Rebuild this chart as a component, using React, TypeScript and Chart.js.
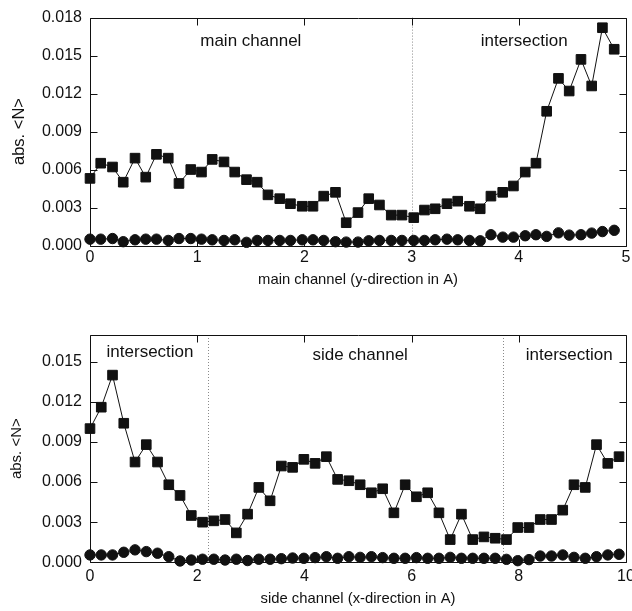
import React, { useEffect, useRef } from "react";
import { Chart, registerables } from "chart.js";

Chart.register(...registerables);

// ---------- data: main channel (top panel) ----------
const MAIN_X = [
  0, 0.1, 0.21, 0.31, 0.42, 0.52, 0.62, 0.73, 0.83, 0.94, 1.04, 1.14, 1.25, 1.35, 1.46, 1.56,
  1.66, 1.77, 1.87, 1.98, 2.08, 2.18, 2.29, 2.39, 2.5, 2.6, 2.7, 2.81, 2.91, 3.02, 3.12, 3.22,
  3.33, 3.43, 3.54, 3.64, 3.74, 3.85, 3.95, 4.06, 4.16, 4.26, 4.37, 4.47, 4.58, 4.68, 4.78, 4.89,
];
const MAIN_SQUARES = [
  0.0053, 0.0065, 0.0062, 0.005, 0.0069, 0.0054, 0.0072, 0.0069, 0.0049, 0.006, 0.0058, 0.0068,
  0.0066, 0.0058, 0.0052, 0.005, 0.004, 0.0037, 0.0033, 0.0031, 0.0031, 0.0039, 0.0042, 0.0018,
  0.0026, 0.0037, 0.0032, 0.0024, 0.0024, 0.0022, 0.0028, 0.0029, 0.0033, 0.0035, 0.0031, 0.0029,
  0.0039, 0.0042, 0.0047, 0.0058, 0.0065, 0.0106, 0.0132, 0.0122, 0.0147, 0.0126, 0.0172, 0.0155,
];
const MAIN_CIRCLES = [
  0.0005, 0.0005, 0.00055, 0.0003, 0.00045, 0.0005, 0.0005, 0.0004, 0.00055, 0.00055, 0.0005, 0.00045,
  0.0004, 0.00045, 0.00025, 0.0004, 0.0004, 0.0004, 0.0004, 0.00045, 0.00045, 0.0004, 0.0003, 0.00027,
  0.00027, 0.00037, 0.0004, 0.0004, 0.0004, 0.0004, 0.0004, 0.00045, 0.0005, 0.00045, 0.0004, 0.00037,
  0.00085, 0.00066, 0.00066, 0.00077, 0.00085, 0.00072, 0.001, 0.00082, 0.00085, 0.00098, 0.0011, 0.0012,
];
const MAIN_X_TICKS = [0, 1, 2, 3, 4, 5];
const MAIN_Y_TICKS = [0, 0.003, 0.006, 0.009, 0.012, 0.015, 0.018];
const MAIN_DIVIDERS = [3];
const MAIN_LABELS = [
  { text: "main channel", x: 1.5, y: 0.01615 },
  { text: "intersection", x: 4.05, y: 0.01615 },
];

// ---------- data: side channel (bottom panel) ----------
const SIDE_X = [
  0, 0.21, 0.42, 0.63, 0.84, 1.05, 1.26, 1.47, 1.68, 1.89, 2.1, 2.31, 2.52, 2.73, 2.94, 3.15,
  3.36, 3.57, 3.78, 3.99, 4.2, 4.41, 4.62, 4.83, 5.04, 5.25, 5.46, 5.67, 5.88, 6.09, 6.3, 6.51,
  6.72, 6.93, 7.14, 7.35, 7.56, 7.77, 7.98, 8.19, 8.4, 8.61, 8.82, 9.03, 9.24, 9.45, 9.66, 9.87,
];
const SIDE_SQUARES = [
  0.01, 0.0116, 0.014, 0.0104, 0.0075, 0.0088, 0.0075, 0.0058, 0.005, 0.0035, 0.003, 0.0031,
  0.0032, 0.0022, 0.0036, 0.0056, 0.0046, 0.0072, 0.0071, 0.0077, 0.0074, 0.0079, 0.0062, 0.0061,
  0.0058, 0.0052, 0.0055, 0.0037, 0.0058, 0.0049, 0.0052, 0.0037, 0.0017, 0.0036, 0.0017, 0.0019,
  0.0018, 0.0017, 0.0026, 0.0026, 0.0032, 0.0032, 0.0039, 0.0058, 0.0056, 0.0088, 0.0074, 0.0079,
];
const SIDE_CIRCLES = [
  0.00055, 0.00055, 0.00055, 0.00075, 0.00093, 0.0008, 0.00068, 0.00042, 0.0001, 0.00017, 0.00023, 0.00023,
  0.00017, 0.00023, 0.00013, 0.00023, 0.00023, 0.00027, 0.00032, 0.0003, 0.00035, 0.00042, 0.0003, 0.00042,
  0.00037, 0.00042, 0.00035, 0.0003, 0.0003, 0.00035, 0.0003, 0.0003, 0.00037, 0.0003, 0.0003, 0.0003,
  0.0003, 0.00022, 0.00012, 0.0002, 0.00047, 0.00047, 0.00055, 0.00037, 0.0003, 0.00042, 0.00055, 0.0006,
];
const SIDE_X_TICKS = [0, 2, 4, 6, 8, 10];
const SIDE_Y_TICKS = [0, 0.003, 0.006, 0.009, 0.012, 0.015];
const SIDE_DIVIDERS = [2.2, 7.7];
const SIDE_LABELS = [
  { text: "intersection", x: 1.12, y: 0.0157 },
  { text: "side channel", x: 5.04, y: 0.0155 },
  { text: "intersection", x: 8.94, y: 0.0155 },
];

const FONT = "'Liberation Sans', Arial, Helvetica, sans-serif";
const INK = "#111";

const framePlugin = {
  id: "frame",
  beforeDatasetsDraw(chart: any, _args: any, opts: any) {
    const { ctx, chartArea: a, scales } = chart;
    const xs = scales.x;
    const ys = scales.y;
    ctx.save();
    ctx.strokeStyle = "#8a8a8a";
    ctx.lineWidth = 1;
    ctx.setLineDash([1, 2]);
    for (const d of opts.dividers || []) {
      const px = Math.round(xs.getPixelForValue(d)) + 0.5;
      ctx.beginPath();
      ctx.moveTo(px, a.top);
      ctx.lineTo(px, a.bottom);
      ctx.stroke();
    }
    ctx.setLineDash([]);
    ctx.strokeStyle = INK;
    ctx.lineWidth = 1;
    const l = Math.round(a.left) + 0.5;
    const r = Math.round(a.right) + 0.5;
    const t = Math.round(a.top) + 0.5;
    const b = Math.round(a.bottom) + 0.5;
    ctx.beginPath();
    ctx.moveTo(l, t);
    ctx.lineTo(r, t);
    ctx.lineTo(r, b);
    ctx.lineTo(l, b);
    ctx.closePath();
    ctx.stroke();
    const tl = 7;
    ctx.beginPath();
    for (const tk of xs.ticks) {
      const px = Math.round(xs.getPixelForValue(tk.value)) + 0.5;
      ctx.moveTo(px, b);
      ctx.lineTo(px, b - tl);
      ctx.moveTo(px, t);
      ctx.lineTo(px, t + tl);
    }
    for (const tk of ys.ticks) {
      const py = Math.round(ys.getPixelForValue(tk.value)) + 0.5;
      ctx.moveTo(l, py);
      ctx.lineTo(l + tl, py);
      ctx.moveTo(r, py);
      ctx.lineTo(r - tl, py);
    }
    ctx.stroke();
    ctx.restore();
  },
  afterDatasetsDraw(chart: any, _args: any, opts: any) {
    const { ctx, scales } = chart;
    ctx.save();
    ctx.fillStyle = INK;
    ctx.font = `17px ${FONT}`;
    ctx.textAlign = "center";
    ctx.textBaseline = "middle";
    for (const lb of opts.labels || []) {
      ctx.fillText(lb.text, scales.x.getPixelForValue(lb.x), scales.y.getPixelForValue(lb.y));
    }
    ctx.restore();
  },
};

type PanelProps = {
  xs: number[];
  squares: number[];
  circles: number[];
  xTicks: number[];
  yTicks: number[];
  xMax: number;
  yMax: number;
  dividers: number[];
  labels: { text: string; x: number; y: number }[];
  xTitle: string;
  width: number;
  height: number;
  top: number;
  padTop: number;
  padBottom: number;
  xAxisHeight: number;
  xTickPad: number;
  yTitleSize: number;
  yTitlePad: number;
};

function Panel(p: PanelProps) {
  const ref = useRef<HTMLCanvasElement | null>(null);
  useEffect(() => {
    if (!ref.current) return;
    const chart = new Chart(ref.current, {
      type: "line",
      data: {
        datasets: [
          {
            data: p.xs.map((x, i) => ({ x, y: p.squares[i] })),
            borderColor: INK,
            backgroundColor: INK,
            borderWidth: 1,
            pointStyle: "rect",
            pointRadius: 6.8,
            pointBorderWidth: 1,
            pointBorderColor: INK,
            pointBackgroundColor: INK,
            tension: 0,
            clip: false,
          } as any,
          {
            data: p.xs.map((x, i) => ({ x, y: p.circles[i] })),
            borderColor: INK,
            backgroundColor: INK,
            borderWidth: 1,
            pointStyle: "circle",
            pointRadius: 5.2,
            pointBorderWidth: 1,
            pointBorderColor: INK,
            pointBackgroundColor: INK,
            tension: 0,
            clip: false,
          } as any,
        ],
      },
      options: {
        responsive: false,
        animation: false,
        events: [],
        layout: { padding: { left: 0, right: 24, top: p.padTop, bottom: p.padBottom } },
        plugins: {
          legend: { display: false },
          tooltip: { enabled: false },
          frame: { dividers: p.dividers, labels: p.labels },
        } as any,
        scales: {
          x: {
            type: "linear",
            min: 0,
            max: p.xMax,
            grid: { display: false, drawTicks: false },
            border: { display: false },
            afterBuildTicks: (s: any) => {
              s.ticks = p.xTicks.map((v) => ({ value: v }));
            },
            afterFit: (s: any) => {
              s.height = p.xAxisHeight;
            },
            ticks: {
              padding: p.xTickPad,
              color: INK,
              font: { family: FONT, size: 16 },
              maxRotation: 0,
              autoSkip: false,
              callback: (v: any) => String(v),
            },
            title: {
              display: true,
              text: p.xTitle,
              color: INK,
              font: { family: FONT, size: 14.8 },
              padding: { top: 0, bottom: 0 },
            },
          },
          y: {
            type: "linear",
            min: 0,
            max: p.yMax,
            grid: { display: false, drawTicks: false },
            border: { display: false },
            afterBuildTicks: (s: any) => {
              s.ticks = p.yTicks.map((v) => ({ value: v }));
            },
            afterFit: (s: any) => {
              s.width = 90;
            },
            ticks: {
              padding: 8,
              color: INK,
              font: { family: FONT, size: 16 },
              autoSkip: false,
              callback: (v: any) => Number(v).toFixed(3),
            },
            title: {
              display: true,
              text: "abs. <N>",
              color: INK,
              font: { family: FONT, size: p.yTitleSize },
              padding: { top: p.yTitlePad, bottom: 0 },
            },
          },
        },
      },
      plugins: [framePlugin as any],
    });
    return () => chart.destroy();
  }, []);
  return (
    <canvas
      ref={ref}
      width={p.width}
      height={p.height}
      style={{ position: "absolute", left: 0, top: p.top, display: "block" }}
    />
  );
}

export default function App() {
  return (
    <div
      style={{
        position: "absolute",
        left: 0,
        top: 0,
        width: 632,
        height: 611,
        overflow: "hidden",
        background: "#fff",
      }}
    >
      <Panel
        xs={MAIN_X}
        squares={MAIN_SQUARES}
        circles={MAIN_CIRCLES}
        xTicks={MAIN_X_TICKS}
        yTicks={MAIN_Y_TICKS}
        xMax={5}
        yMax={0.018}
        dividers={MAIN_DIVIDERS}
        labels={MAIN_LABELS}
        xTitle="main channel (y-direction in A)"
        width={650}
        height={300}
        top={0}
        padTop={17}
        padBottom={11}
        xAxisHeight={43.5}
        xTickPad={2}
        yTitleSize={16.5}
        yTitlePad={9.5}
      />
      <Panel
        xs={SIDE_X}
        squares={SIDE_SQUARES}
        circles={SIDE_CIRCLES}
        xTicks={SIDE_X_TICKS}
        yTicks={SIDE_Y_TICKS}
        xMax={10}
        yMax={0.017}
        dividers={SIDE_DIVIDERS}
        labels={SIDE_LABELS}
        xTitle="side channel (x-direction in A)"
        width={650}
        height={311}
        top={300}
        padTop={35}
        padBottom={3}
        xAxisHeight={45.7}
        xTickPad={5}
        yTitleSize={15}
        yTitlePad={8}
      />
    </div>
  );
}
